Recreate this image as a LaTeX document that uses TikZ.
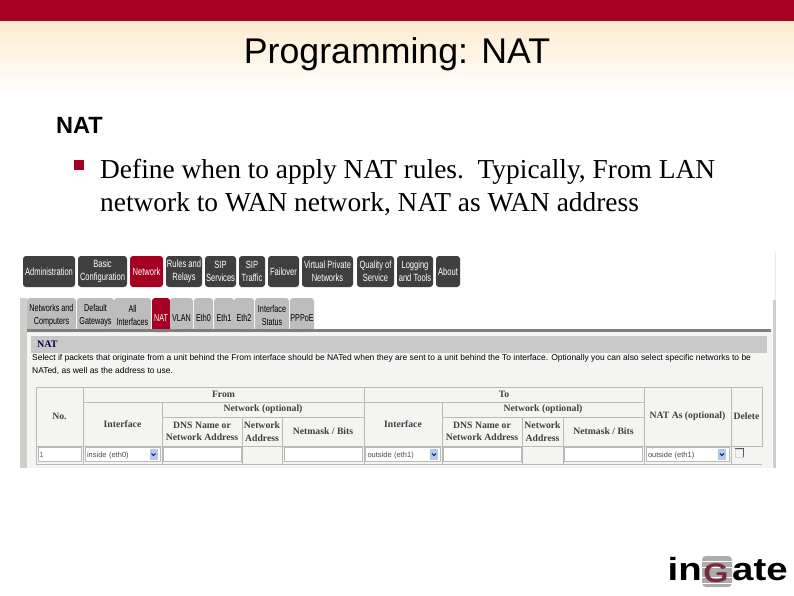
\documentclass[tikz,border=0pt]{standalone}
\usepackage{fontspec}
\setmainfont{Liberation Serif}
\newfontfamily\arialfont{Liberation Sans}
\newfontfamily\narrowfont[FakeStretch=0.72]{Liberation Sans}
\newfontfamily\logofont[FakeStretch=1.2]{Liberation Sans}
\definecolor{crimson}{HTML}{A50021}
\definecolor{peach}{HTML}{FDEBD0}
\definecolor{btngray}{HTML}{3F3F3F}
\definecolor{tabgray}{HTML}{BDBDBD}
\definecolor{panelgray}{HTML}{F4F4F2}
\definecolor{rulegray}{HTML}{80807A}
\definecolor{cellgray}{HTML}{B8BAB4}
\definecolor{selblue}{HTML}{B4C8EC}
\definecolor{logored}{HTML}{7A2A3C}
\tikzstyle{btn} = [rectangle, rounded corners=3pt, fill=btngray, text=white, inner sep=0pt, minimum height=31pt, align=center, font=\narrowfont\fontsize{10.5}{13}\selectfont]
\tikzstyle{tab} = [rectangle, rounded corners=3pt, fill=tabgray, text=black, inner sep=0pt, minimum height=34pt, align=center, font=\narrowfont\fontsize{10}{13}\selectfont]
\tikzstyle{cell} = [rectangle, draw=cellgray, line width=0.8pt, inner sep=0pt, align=center, font=\bfseries\fontsize{9.7}{12.5}\selectfont, text=black!75]
\tikzstyle{field} = [rectangle, draw=cellgray, line width=0.8pt, fill=white, inner sep=0pt, minimum height=14pt]
\tikzstyle{choice} = [field, font=\arialfont\fontsize{7.5}{9}\selectfont, text=black!70, align=left, text depth=0pt]
\tikzstyle{drop} = [rectangle, fill=selblue, inner sep=0pt, minimum width=8pt, minimum height=11pt]

\begin{document}
\begin{tikzpicture}[x=1pt,y=-1pt]
    \useasboundingbox (0,0) rectangle (794,595);
    \fill[white] (0,0) rectangle (794,595);
    % slide head
    \shade[top color=peach,bottom color=white] (0,21) rectangle (794,95);
    \fill[crimson] (0,0) rectangle (794,21);
    \node[font=\arialfont\fontsize{35.7}{40}\selectfont] (title) at (397,54.5) {Programming: NAT};
    \node[font=\arialfont\bfseries\fontsize{23.5}{26}\selectfont, anchor=west, inner sep=0pt] (head) at (56,125) {NAT};
    \node[rectangle, fill=crimson, minimum width=10pt, minimum height=10pt, inner sep=0pt] (bullet) at (79,165) {};
    \node[anchor=north west, inner sep=0pt, align=left, font=\fontsize{27.4}{33}\selectfont] (body) at (100,159.5)
    {Define when to apply NAT rules.\ \ Typically, From LAN\\network to WAN network, NAT as WAN address};

    % screenshot
    \fill[panelgray] (27,329) rectangle (772,468);
    \fill[cellgray!70] (20,298) rectangle (27,468);
    \fill[cellgray!70] (773,300) rectangle (776,468);
    \fill[black!8] (775,252) rectangle (776,300);

    % menu
    \node[btn, minimum width=52pt] (admin) at (49,271.5) {Administration};
    \node[btn, minimum width=49pt] (basic) at (102.5,271.5) {Basic\\Configuration};
    \node[btn, minimum width=33pt, fill=crimson] (network) at (146.5,271.5) {Network};
    \node[btn, minimum width=36pt] (rules) at (184,271.5) {Rules and\\Relays};
    \node[btn, minimum width=31pt] (sipserv) at (220.5,271.5) {SIP\\Services};
    \node[btn, minimum width=26pt] (siptraf) at (252,271.5) {SIP\\Traffic};
    \node[btn, minimum width=31pt] (failover) at (283.5,271.5) {Failover};
    \node[btn, minimum width=51pt] (vpn) at (327.5,271.5) {Virtual Private\\Networks};
    \node[btn, minimum width=37pt] (qos) at (375.5,271.5) {Quality of\\Service};
    \node[btn, minimum width=36pt] (logging) at (415,271.5) {Logging\\and Tools};
    \node[btn, minimum width=24pt] (about) at (448,271.5) {About};

    % tabs
    \node[tab, minimum width=49pt] (computers) at (51.5,315) {Networks and\\Computers};
    \node[tab, minimum width=37pt] (gateways) at (95.5,315) {Default\\Gateways};
    \node[tab, minimum width=37pt] (interfaces) at (132.5,315) {All\\Interfaces};
    \node[tab, minimum width=18pt, fill=crimson, text=white] (nat) at (161,315) {\\NAT};
    \node[tab, minimum width=23pt] (vlan) at (181.5,315) {\\VLAN};
    \node[tab, minimum width=19pt] (eth0) at (203.5,315) {\\Eth0};
    \node[tab, minimum width=20pt] (eth1) at (224,315) {\\Eth1};
    \node[tab, minimum width=20pt] (eth2) at (244,315) {\\Eth2};
    \node[tab, minimum width=34pt] (status) at (272,315) {Interface\\Status};
    \node[tab, minimum width=24pt] (pppoe) at (302,315) {\\PPPoE};
    \fill[rulegray] (27,329) rectangle (771,332);

    % page text
    \fill[black!21] (31,336) rectangle (767,353);
    \node[anchor=west, inner sep=0pt, text=blue!30!black, font=\bfseries\fontsize{10}{12}\selectfont] (nathead) at (37,344.5) {NAT};
    \node[anchor=north west, inner sep=0pt, align=left, font=\arialfont\fontsize{8.45}{12.5}\selectfont] (select) at (32,354.5)
    {Select if packets that originate from a unit behind the From interface should be NATed when they are sent to a unit behind the To interface. Optionally you can also select specific networks to be\\NATed, as well as the address to use.};

    % table
    \node[cell, minimum width=47pt, minimum height=59pt] (no) at (59.5,416.5) {No.};
    \node[cell, minimum width=281pt, minimum height=15pt] (from) at (223.5,394.5) {From};
    \node[cell, minimum width=79pt, minimum height=44pt] (iface1) at (122.5,424) {Interface};
    \node[cell, minimum width=202pt, minimum height=15pt] (net1) at (263,409.5) {Network (optional)};
    \node[cell, minimum width=80pt, minimum height=29pt] (dns1) at (202,431.5) {DNS Name or\\Network Address};
    \node[cell, minimum width=40pt, minimum height=29pt] (addr1) at (262,431.5) {Network\\Address};
    \node[cell, minimum width=82pt, minimum height=29pt] (mask1) at (323,431.5) {Netmask / Bits};
    \node[cell, minimum width=280pt, minimum height=15pt] (to) at (504,394.5) {To};
    \node[cell, minimum width=78pt, minimum height=44pt] (iface2) at (403,424) {Interface};
    \node[cell, minimum width=202pt, minimum height=15pt] (net2) at (543,409.5) {Network (optional)};
    \node[cell, minimum width=80pt, minimum height=29pt] (dns2) at (482,431.5) {DNS Name or\\Network Address};
    \node[cell, minimum width=41pt, minimum height=29pt] (addr2) at (542.5,431.5) {Network\\Address};
    \node[cell, minimum width=81pt, minimum height=29pt] (mask2) at (603.5,431.5) {Netmask / Bits};
    \node[cell, minimum width=87pt, minimum height=59pt] (natas) at (687.5,416.5) {NAT As (optional)};
    \node[cell, minimum width=31pt, minimum height=59pt] (delete) at (746.5,416.5) {Delete};

    % input row
    \draw[cellgray, line width=0.8pt] (36,464) -- (762,464)
      (36,446) -- (36,464) (83,446) -- (83,464) (162,446) -- (162,464) (242,446) -- (242,464) (282,446) -- (282,464)
      (364,446) -- (364,464) (442,446) -- (442,464) (522,446) -- (522,464) (563,446) -- (563,464) (644,446) -- (644,464) (731,446) -- (731,464);
    \node[field, minimum width=43pt, font=\arialfont\fontsize{7.5}{9}\selectfont, text=black!60] (nofield) at (59.5,454.5) {\hspace{-36pt}1};
    \node[choice, minimum width=75pt, text width=71pt] (infrom) at (122.5,454.5) {inside (eth0)};
    \node[drop] (dropfrom) at (153.5,454.5) {};
    \node[field, minimum width=78pt] (dnsfrom) at (202,454.5) {};
    \node[field, minimum width=78pt] (maskfrom) at (323,454.5) {};
    \node[choice, minimum width=75pt, text width=71pt] (into) at (403,454.5) {outside (eth1)};
    \node[drop] (dropto) at (434,454.5) {};
    \node[field, minimum width=78pt] (dnsto) at (482,454.5) {};
    \node[field, minimum width=78pt] (maskto) at (603,454.5) {};
    \node[choice, minimum width=83pt, text width=79pt] (inas) at (687.5,454.5) {outside (eth1)};
    \node[drop] (dropas) at (722,454.5) {};
    \node[rectangle, draw=black!15, minimum width=8pt, minimum height=8pt, inner sep=0pt] (check) at (739,453) {};
    \draw[black!65, line width=0.8pt] (check.north west) -- (check.north east) -- (check.south east);
    \draw[blue!50!black, line width=0.8pt] (dropfrom.center) ++(-2,-1) -- ++(2,2) -- ++(2,-2);
    \draw[blue!50!black, line width=0.8pt] (dropto.center) ++(-2,-1) -- ++(2,2) -- ++(2,-2);
    \draw[blue!50!black, line width=0.8pt] (dropas.center) ++(-2,-1) -- ++(2,2) -- ++(2,-2);

    % logo
    \node[rectangle, rounded corners=4pt, fill=black!33, minimum width=30pt, minimum height=31pt, inner sep=0pt] (logobox) at (717,571.5) {};
    \draw[white, line width=0.8pt] (logobox.west |- 0,561) -- (logobox.east |- 0,561) (logobox.west |- 0,567) -- (logobox.east |- 0,567)
      (logobox.west |- 0,577) -- (logobox.east |- 0,577) (logobox.west |- 0,583) -- (logobox.east |- 0,583);
    \node[anchor=base east, inner sep=0pt, font=\logofont\bfseries\fontsize{32}{36}\selectfont] (logoin) at (702,580) {in};
    \node[anchor=base, inner sep=0pt, text=logored, font=\logofont\fontsize{27}{30}\selectfont\bfseries] (logog) at (716,582) {G};
    \node[anchor=base west, inner sep=0pt, font=\logofont\bfseries\fontsize{32}{36}\selectfont] (logoate) at (732,580) {ate};
\end{tikzpicture}
\end{document}
